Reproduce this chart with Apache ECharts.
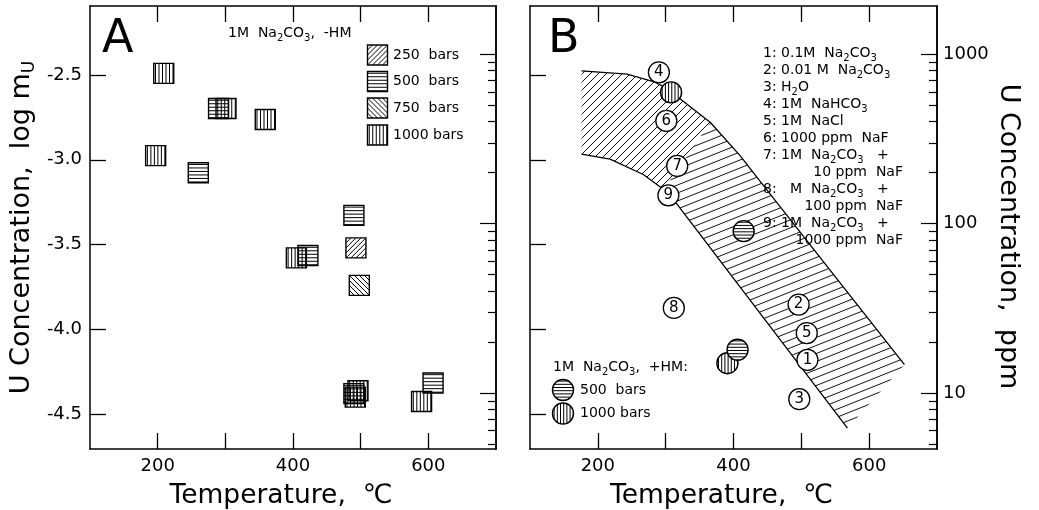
<!DOCTYPE html>
<html><head><meta charset="utf-8">
<script src="https://cdn.jsdelivr.net/npm/echarts@6.0.0/dist/echarts.min.js"></script>
<style>html,body{margin:0;padding:0;background:#fff;}#c{width:1039px;height:510px;}</style>
</head><body><div id="c"></div>
<script>
// ---------------- data ----------------
const xTickValues = [200, 300, 400, 500, 600];
const xLabelValues = [200, 400, 600];
const logmTickValues = [-4.5, -4.0, -3.5, -3.0, -2.5];
const ppmMajorValues = [10, 100, 1000];
const ppmMinorValues = [5, 6, 7, 8, 9, 20, 30, 40, 50, 60, 70, 80, 90, 200, 300, 400, 500, 600, 700, 800, 900];

// Panel A: [temperature (°C), log mU], 1M Na2CO3, -HM
const a250bars = [[493, -3.52]];
const a500bars = [[290, -2.697], [260, -3.076], [490, -3.328], [422, -3.565], [490, -4.38], [607, -4.317]];
const a750bars = [[498, -3.741]];
const a1000bars = [[209, -2.49], [301, -2.697], [359, -2.762], [197, -2.975], [405, -3.579], [496, -4.363], [492, -4.401], [590, -4.427]];

// Panel B: numbered runs, temperature (°C) and U concentration (ppm)
const bRunLabels = ['1', '2', '3', '4', '5', '6', '7', '8', '9'];
const bRunTemp = [509, 496, 497, 290, 508, 301, 317, 312, 304];
const bRunPpm = [15.7, 33.3, 9.2, 782, 22.6, 404, 219, 31.8, 147];
// Panel B: 1M Na2CO3, +HM  [temperature, ppm]
const b500bars = [[415, 90.3], [406, 18.0]];
const b1000bars = [[308, 595], [391, 15.0]];
// Panel B: shaded band boundaries [temperature, ppm]
const bandUpper = [[176, 798], [243, 764], [282, 690], [300, 635], [322, 543], [366, 395], [410, 251], [435, 187], [652, 14.7]];
const bandLower = [[176, 257], [218, 240], [267, 195], [297, 159], [317, 130], [568, 6.2]];

// legend / annotation texts
const aLegendLabels = ['250  bars', '500  bars', '750  bars', '1000 bars'];
const bListLines = [
  '1: 0.1M  Na{s|2}CO{s|3}',
  '2: 0.01 M  Na{s|2}CO{s|3}',
  '3: H{s|2}O',
  '4: 1M  NaHCO{s|3}',
  '5: 1M  NaCl',
  '6: 1000 ppm  NaF',
  '7: 1M  Na{s|2}CO{s|3}   +',
  null,
  '8:   M  Na{s|2}CO{s|3}   +',
  null,
  '9: 1M  Na{s|2}CO{s|3}   +',
  null
];
const bListCont = [null, null, null, null, null, null, null, '10 ppm  NaF', null, '100 ppm  NaF', null, '1000 ppm  NaF'];

// ---------------- helpers ----------------
const LOG_PPM_OFFSET = Math.log10(238030);
const Y_MIN = -4.707, Y_MAX = -2.092;
const FONT = 'DejaVu Sans';
const BLACK = '#000';

function L(els, a, b, c, d, w) {
  els.push({type: 'line', silent: true, shape: {x1: a, y1: b, x2: c, y2: d}, style: {stroke: BLACK, lineWidth: w || 1}});
}
function hatchSquare(cx, cy, s, kind, step) {
  const x0 = cx - s / 2, y0 = cy - s / 2, els = [];
  if (kind === 'h') for (let t = step / 2; t < s; t += step) L(els, x0, y0 + t, x0 + s, y0 + t);
  if (kind === 'v') for (let t = step / 2; t < s; t += step) L(els, x0 + t, y0, x0 + t, y0 + s);
  if (kind === '/') for (let d = step; d < 2 * s; d += step) {
    const u1 = Math.max(0, d - s), u2 = Math.min(s, d);
    L(els, x0 + u1, y0 + d - u1, x0 + u2, y0 + d - u2);
  }
  if (kind === '\\') for (let d = -s + step; d < s; d += step) {
    const u1 = Math.max(0, d), u2 = Math.min(s, s + d);
    L(els, x0 + u1, y0 + u1 - d, x0 + u2, y0 + u2 - d);
  }
  els.push({type: 'rect', silent: true, shape: {x: x0, y: y0, width: s, height: s}, style: {fill: 'none', stroke: BLACK, lineWidth: 1.4}});
  return els;
}
function hatchCircle(cx, cy, r, kind, step) {
  const els = [{type: 'circle', silent: true, shape: {cx, cy, r}, style: {fill: '#fff', stroke: 'none'}}];
  for (let t = -r + step / 2; t < r; t += step) {
    const h = Math.sqrt(r * r - t * t);
    if (kind === 'h') L(els, cx - h, cy + t, cx + h, cy + t);
    else L(els, cx + t, cy - h, cx + t, cy + h);
  }
  els.push({type: 'circle', silent: true, shape: {cx, cy, r}, style: {fill: 'none', stroke: BLACK, lineWidth: 1.4}});
  return els;
}
function bandPattern(W, H) {
  const c = document.createElement('canvas'); c.width = W; c.height = H;
  const g = c.getContext('2d'); g.strokeStyle = '#111'; g.lineWidth = 1;
  g.beginPath();
  for (let k = -1; k <= 1; k++) { g.moveTo(-W, 2 * H + k * H); g.lineTo(2 * W, -H + k * H); }
  g.stroke();
  return {image: c, repeat: 'repeat'};
}
const toLog = p => [p[0], Math.log10(p[1])];

// ticks point into the plot: negative length with inside:false
function xAxisDef(gridIndex, position, withLabels) {
  return {
    type: 'value', gridIndex, position, min: 100, max: 700,
    axisLine: {show: true, onZero: false, lineStyle: {color: BLACK, width: 1.5}},
    axisTick: {show: true, inside: false, length: -16, customValues: xTickValues, lineStyle: {color: BLACK, width: 1.3}},
    axisLabel: {show: withLabels, customValues: xLabelValues, color: BLACK, fontFamily: FONT, fontSize: 18, margin: 8},
    splitLine: {show: false},
    name: withLabels ? 'Temperature,  ℃' : '',
    nameLocation: 'middle', nameGap: 34,
    nameTextStyle: {color: BLACK, fontFamily: FONT, fontSize: 26.5, padding: [0, 24, 0, 0]}
  };
}
function logmAxis(gridIndex, withLabels) {
  return {
    type: 'value', gridIndex, position: 'left', min: Y_MIN, max: Y_MAX,
    axisLine: {show: true, onZero: false, lineStyle: {color: BLACK, width: 1.5}},
    axisTick: {show: true, inside: false, length: -16, customValues: logmTickValues, lineStyle: {color: BLACK, width: 1.3}},
    axisLabel: {show: withLabels, customValues: logmTickValues, formatter: v => v.toFixed(1), color: BLACK, fontFamily: FONT, fontSize: 18, margin: 8},
    splitLine: {show: false},
    name: withLabels ? 'U Concentration,  log m{s|U}' : '', nameLocation: 'middle', nameGap: 52, nameRotate: 90,
    nameTextStyle: {color: BLACK, fontFamily: FONT, fontSize: 27, lineHeight: 32,
      rich: {s: {color: BLACK, fontFamily: FONT, fontSize: 17, lineHeight: 17, verticalAlign: 'bottom'}}}
  };
}
function ppmAxis(gridIndex, values, len, withLabels) {
  const lv = values.map(v => Math.log10(v));
  return {
    type: 'value', gridIndex, position: 'right', offset: 0,
    min: Y_MIN + LOG_PPM_OFFSET, max: Y_MAX + LOG_PPM_OFFSET,
    axisLine: {show: true, onZero: false, lineStyle: {color: BLACK, width: 1.5}},
    axisTick: {show: true, inside: false, length: -len, customValues: lv, lineStyle: {color: BLACK, width: 1.2}},
    axisLabel: {show: withLabels, customValues: lv, formatter: v => String(Math.round(Math.pow(10, v))), color: BLACK, fontFamily: FONT, fontSize: 18, margin: 6},
    splitLine: {show: false},
    name: withLabels ? 'U Concentration,  ppm' : '', nameLocation: 'middle', nameGap: 58, nameRotate: -90,
    nameTextStyle: {color: BLACK, fontFamily: FONT, fontSize: 27, padding: [0, 0, 0, 18]}
  };
}
function squareSeries(data, kind, step) {
  return {
    type: 'custom', xAxisIndex: 0, yAxisIndex: 0, data, encode: {x: 0, y: 1}, silent: true, z: 5,
    renderItem: (params, api) => {
      const p = api.coord([api.value(0), api.value(1)]);
      return {type: 'group', children: hatchSquare(p[0], p[1], 20, kind, step)};
    }
  };
}
function circleSeries(data, kind) {
  return {
    type: 'custom', xAxisIndex: 2, yAxisIndex: 4, data: data.map(toLog), encode: {x: 0, y: 1}, silent: true, z: 6,
    renderItem: (params, api) => {
      const p = api.coord([api.value(0), api.value(1)]);
      return {type: 'group', children: hatchCircle(p[0], p[1], 10.5, kind, 3.2)};
    }
  };
}
function bandSeries(points, pattern) {
  const pts = points.map(toLog);
  return {
    type: 'custom', xAxisIndex: 2, yAxisIndex: 4, data: pts, encode: {x: 0, y: 1}, silent: true, z: 1,
    renderItem: (params, api) => {
      if (params.dataIndex !== 0) return null;
      return {type: 'polygon', silent: true, shape: {points: pts.map(p => api.coord(p))}, style: {fill: pattern, stroke: 'none'}};
    }
  };
}
function boundarySeries(points) {
  return {
    type: 'line', xAxisIndex: 2, yAxisIndex: 4, data: points.map(toLog), symbol: 'none', silent: true, z: 3,
    lineStyle: {color: BLACK, width: 1.3}
  };
}

const splitU = 5, splitL = 3;
const region1 = bandUpper.slice(0, splitU + 1).concat(bandLower.slice(0, splitL + 1).reverse());
const region2 = bandUpper.slice(splitU).concat(bandLower.slice(splitL).reverse());

// ---------------- graphic texts ----------------
function richSub(size) {
  return {s: {fontFamily: FONT, fontSize: Math.round(size * 0.72), lineHeight: Math.round(size * 0.72), verticalAlign: 'bottom', fill: BLACK}};
}
function T(x, y, text, size, align) {
  return {type: 'text', x, y, silent: true, z: 10,
    style: {text, fill: BLACK, fontFamily: FONT, fontSize: size, lineHeight: size + 6, align: align || 'left', verticalAlign: 'middle', rich: richSub(size)}};
}
const graphics = [];
graphics.push(T(102, 40, 'A', 46));
graphics.push(T(548, 40, 'B', 46));
graphics.push(T(228, 33, '1M  Na{s|2}CO{s|3},  -HM', 14));
const aKinds = ['/', 'h', '\\', 'v'];
const aSteps = [5, 3.5, 5, 3.5];
const aLegY = [55, 81.5, 108, 135];
aLegendLabels.forEach((lab, i) => {
  graphics.push({type: 'group', silent: true, children: hatchSquare(377.5, aLegY[i], 20, aKinds[i], aSteps[i])});
  graphics.push(T(393, aLegY[i], lab, 14));
});
bListLines.forEach((line, i) => {
  const y = 53 + 17.07 * i;
  if (line) graphics.push(T(763, y, line, 14));
  if (bListCont[i]) graphics.push(T(903, y, bListCont[i], 14, 'right'));
});
graphics.push(T(553, 367, '1M  Na{s|2}CO{s|3},  +HM:', 14));
graphics.push({type: 'group', silent: true, children: hatchCircle(563, 390, 10.5, 'h', 3.2)});
graphics.push({type: 'group', silent: true, children: hatchCircle(563, 413.5, 10.5, 'v', 3.2)});
graphics.push(T(580, 390, '500  bars', 14));
graphics.push(T(580, 413.5, '1000 bars', 14));

// ---------------- chart ----------------
const chart = echarts.init(document.getElementById('c'), null, {renderer: 'canvas'});
chart.setOption({
  animation: false,
  backgroundColor: '#fff',
  grid: [
    {left: 90, top: 6, width: 406, height: 443, containLabel: false, outerBoundsMode: 'none'},
    {left: 530, top: 6, width: 407, height: 443, containLabel: false, outerBoundsMode: 'none'}
  ],
  xAxis: [xAxisDef(0, 'bottom', true), xAxisDef(0, 'top', false), xAxisDef(1, 'bottom', true), xAxisDef(1, 'top', false)],
  yAxis: [
    logmAxis(0, true), ppmAxis(0, ppmMajorValues, 16, false), ppmAxis(0, ppmMinorValues, 8, false),
    logmAxis(1, false), ppmAxis(1, ppmMajorValues, 16, true), ppmAxis(1, ppmMinorValues, 8, false)
  ],
  series: [
    squareSeries(a500bars, 'h', 3.5),
    squareSeries(a1000bars, 'v', 3.5),
    squareSeries(a250bars, '/', 5),
    squareSeries(a750bars, '\\', 5),
    bandSeries(region1, bandPattern(8, 8)),
    bandSeries(region2, bandPattern(20, 8)),
    boundarySeries(bandUpper),
    boundarySeries(bandLower),
    circleSeries(b1000bars, 'v'),
    circleSeries(b500bars, 'h'),
    {
      type: 'scatter', xAxisIndex: 2, yAxisIndex: 4, z: 7, silent: true,
      data: bRunLabels.map((n, i) => ({name: n, value: [bRunTemp[i], Math.log10(bRunPpm[i])]})),
      symbol: 'circle', symbolSize: 21,
      itemStyle: {color: '#fff', borderColor: BLACK, borderWidth: 1.3, opacity: 1},
      label: {show: true, position: 'inside', formatter: '{b}', color: BLACK, fontFamily: FONT, fontSize: 15}
    }
  ],
  graphic: graphics
});
</script>
</body></html>
